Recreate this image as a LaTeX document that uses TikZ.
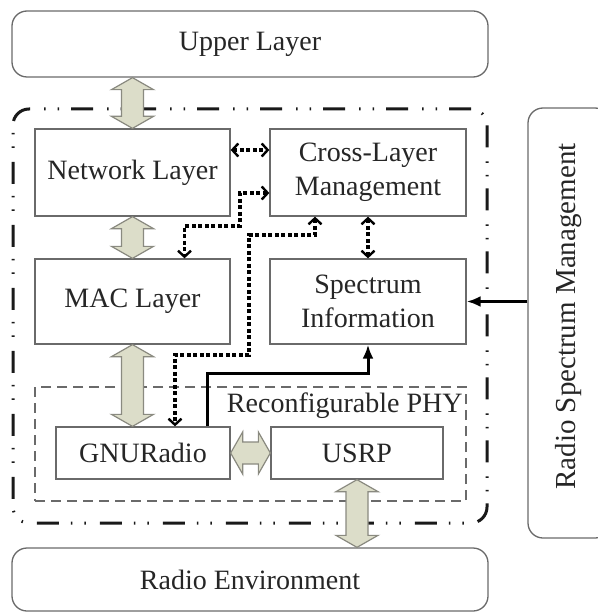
\documentclass[tikz,border=0pt]{standalone}
\usepackage{fontspec}
\setmainfont{Liberation Serif}
\newfontfamily\diagfont{Liberation Serif}
\usetikzlibrary{arrows.meta,calc}

\definecolor{edge}{HTML}{6A6A6A}
\definecolor{fatfill}{HTML}{DCDDC9}
\definecolor{fatline}{HTML}{8A8A80}
\definecolor{ink}{HTML}{262626}

% double-headed block arrow between two tip points
\newcommand\fatarrow[2]{%
  \path (#1) coordinate (fa-a) (#2) coordinate (fa-b);
  \path ($(fa-a)!12pt!(fa-b)$) coordinate (fa-p) ($(fa-b)!12pt!(fa-a)$) coordinate (fa-q);
  \draw[fatarrow] (fa-a) -- ($(fa-p)!21pt!-90:(fa-b)$) -- ($(fa-p)!11pt!-90:(fa-b)$)
    -- ($(fa-q)!11pt!90:(fa-a)$) -- ($(fa-q)!21pt!90:(fa-a)$) -- (fa-b)
    -- ($(fa-q)!21pt!-90:(fa-a)$) -- ($(fa-q)!11pt!-90:(fa-a)$)
    -- ($(fa-p)!11pt!90:(fa-b)$) -- ($(fa-p)!21pt!90:(fa-b)$) -- cycle;
}

\tikzset{
  txt/.style={font=\diagfont\fontsize{28}{34}\selectfont, text=ink, align=center},
  box/.style={txt, draw=edge, line width=1.3pt, fill=white, inner sep=2pt},
  roundbox/.style={box, rounded corners=15pt},
  corebox/.style={draw=black!90, line width=3pt, rounded corners=16pt, inner sep=0pt,
    dash pattern=on 22pt off 12pt on 1.5pt off 12pt on 1.5pt off 14pt},
  phybox/.style={draw=edge, line width=1.6pt, inner sep=0pt, dash pattern=on 10pt off 6pt},
  fatarrow/.style={draw=fatline, line width=1.2pt, fill=fatfill, line join=miter},
  barb/.tip={Straight Barb[length=6pt,width=13pt,line width=2.4pt]},
  ctrl/.style={draw=black, line width=3.2pt, dash pattern=on 4pt off 2.5pt, barb-barb},
  feed/.style={draw=black, line width=3pt, -{Latex[length=14pt,width=11pt]}},
}

\begin{document}
\begin{tikzpicture}[x=1pt,y=-1pt]
  \useasboundingbox (0,0) rectangle (597,612);
  \fill[white] (0,0) rectangle (597,612);

  % enclosing regions
  \node[corebox, minimum width=474pt, minimum height=414pt] (core) at (250,316) {};
  \node[phybox, minimum width=431pt, minimum height=114pt] (phy) at (250.5,444) {};
  \node[txt, anchor=base east, inner sep=0pt] (phylabel) at ($(phy.north east)+(-4,26)$) {Reconfigurable PHY};

  % outer layers
  \node[roundbox, minimum width=476pt, minimum height=66pt] (upper) at (250,44) {Upper Layer};
  \node[roundbox, minimum width=476pt, minimum height=63pt] (env) at (250,579.5) {Radio Environment};
  \node[roundbox, minimum width=82pt, minimum height=430pt] (rsm) at (569,323) {};
  \node[txt, font=\diagfont\fontsize{29}{34}\selectfont, rotate=90, anchor=base, inner sep=0pt]
    (rsmlabel) at (575,316.5) {Radio Spectrum Management};

  % protocol blocks
  \node[box, minimum width=195pt, minimum height=87pt] (net) at (132.5,172.5) {Network Layer};
  \node[box, minimum width=196pt, minimum height=87pt] (cross) at (368,172.5) {Cross-Layer\\Management};
  \node[box, minimum width=195pt, minimum height=85pt] (mac) at (132.5,301.5) {MAC Layer};
  \node[box, minimum width=196pt, minimum height=85pt] (spec) at (368,301.5) {Spectrum\\Information};
  \node[box, minimum width=174pt, minimum height=52pt] (gnu) at (143,453) {GNURadio};
  \node[box, minimum width=172pt, minimum height=52pt] (usrp) at (357,453) {USRP};

  % data path
  \fatarrow{net.north |- upper.south}{net.north}
  \fatarrow{net.south}{mac.north}
  \fatarrow{mac.south}{mac.south |- gnu.north}
  \fatarrow{gnu.east}{usrp.west}
  \fatarrow{usrp.south}{usrp.south |- env.north}

  % cross-layer control
  \draw[ctrl] ($(net.east)+(0,-22.5)$) -- ($(cross.west)+(0,-22.5)$);
  \draw[ctrl] ($(cross.west)+(0,20.5)$) -| (240,226) -| ($(mac.north)+(52,0)$);
  \draw[ctrl] ($(cross.south)+(-53,0)$) |- (249,235) -- (249,355) -| ($(gnu.north)+(32,0)$);
  \draw[ctrl] (cross.south) -- (spec.north);

  % spectrum sensing feeds
  \draw[feed] ($(gnu.north)+(64,0)$) |- ($(spec.south)+(0,29)$) -- (spec.south);
  \draw[feed] (rsm.west |- spec.east) -- (spec.east);
\end{tikzpicture}
\end{document}
